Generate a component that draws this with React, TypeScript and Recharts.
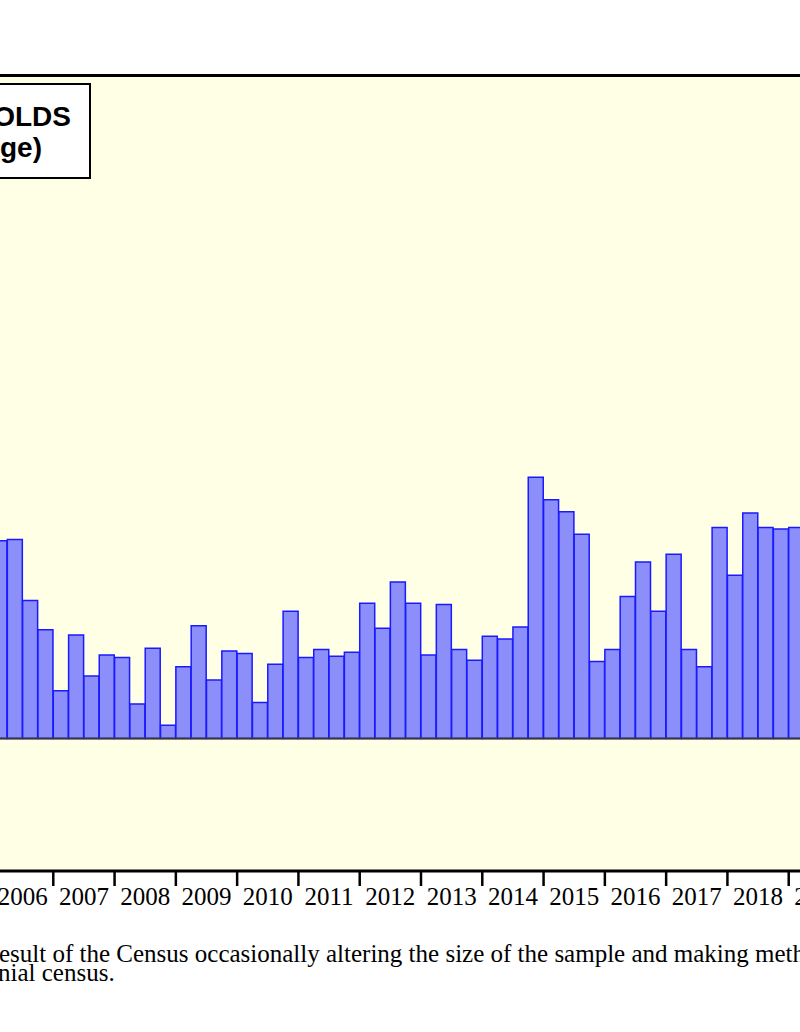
import React from "react";
import { BarChart, Bar, XAxis, YAxis, CartesianGrid, ReferenceLine } from "recharts";

// Quarterly categories (2006 Q1 – 2019 Q4)
const YEARS = [2006, 2007, 2008, 2009, 2010, 2011, 2012, 2013, 2014, 2015, 2016, 2017, 2018, 2019];
const QUARTERS = ["Q1", "Q2", "Q3", "Q4"];

// Year-over-year change (%); last three quarters are outside the view
const VALUES: (number | null)[] = [
  1.49, 1.50, 1.04, 0.82, // 2006
  0.36, 0.78, 0.47, 0.63, // 2007
  0.61, 0.26, 0.68, 0.10, // 2008
  0.54, 0.85, 0.44, 0.66, // 2009
  0.64, 0.27, 0.56, 0.96, // 2010
  0.61, 0.67, 0.62, 0.65, // 2011
  1.02, 0.83, 1.18, 1.02, // 2012
  0.63, 1.01, 0.67, 0.59, // 2013
  0.77, 0.75, 0.84, 1.97, // 2014
  1.80, 1.71, 1.54, 0.58, // 2015
  0.67, 1.07, 1.33, 0.96, // 2016
  1.39, 0.67, 0.54, 1.59, // 2017
  1.23, 1.70, 1.59, 1.58, // 2018
  1.59, null, null, null, // 2019
];

const Y_DOMAIN: [number, number] = [-1, 5];
const TITLE_LINES = ["HOUSEHOLDS", "(% change)"];
const NOTE_LINES = [
  "esult of the Census occasionally altering the size of the sample and making methodological",
  "nial census.",
];

const data = YEARS.flatMap((y) => QUARTERS.map((q) => ({ q: `${y}${q}`, year: y }))).map(
  (d, i) => ({ ...d, v: VALUES[i] })
);

const CHART_W = 1000;
const CHART_H = 1032;
const CHART_LEFT = -100;
const M = { top: 75.5, right: 50, bottom: 121, left: 92 };
const XAXIS_H = 40;
const PLOT_W = CHART_W - M.left - M.right;
const PLOT_BOTTOM = CHART_H - M.bottom - XAXIS_H;
const BW = PLOT_W / data.length;
const SERIF = "'Liberation Serif', 'Times New Roman', serif";
const SANS = "'Liberation Sans', Arial, sans-serif";

const YearTick = (props: any) => {
  const { x, payload } = props;
  const val: string = String(payload?.value ?? "");
  if (!val.endsWith("Q1")) return <g />;
  const edge = x - BW / 2;
  return (
    <g>
      <line x1={edge} x2={edge} y1={PLOT_BOTTOM} y2={PLOT_BOTTOM + 15} stroke="#000" strokeWidth={2.5} />
      <text
        x={edge + BW * 2}
        y={PLOT_BOTTOM + 34}
        textAnchor="middle"
        fontFamily={SERIF}
        fontSize={25}
        fill="#000"
      >
        {val.slice(0, 4)}
      </text>
    </g>
  );
};

export default function App() {
  return (
    <div
      style={{
        position: "absolute",
        left: 0,
        top: 0,
        width: 800,
        height: 1032,
        overflow: "hidden",
        background: "#fff",
      }}
    >
      <div style={{ position: "absolute", left: CHART_LEFT, top: 0 }}>
        <BarChart
          width={CHART_W}
          height={CHART_H}
          data={data}
          margin={M}
          barCategoryGap={0}
          barGap={0}
        >
          <CartesianGrid fill="#ffffe6" fillOpacity={1} horizontal={false} vertical={false} />
          <XAxis
            dataKey="q"
            interval={0}
            height={XAXIS_H}
            axisLine={false}
            tickLine={false}
            tick={(p: any) => <YearTick {...p} />}
          />
          <YAxis hide type="number" domain={Y_DOMAIN} allowDataOverflow />
          <Bar
            dataKey="v"
            fill="#8c8ffa"
            stroke="#1a1aff"
            strokeWidth={1.5}
            isAnimationActive={false}
          />
          <ReferenceLine y={0} stroke="#3a3a3a" strokeWidth={2} />
          <ReferenceLine y={Y_DOMAIN[1]} stroke="#000" strokeWidth={3} />
          <ReferenceLine y={Y_DOMAIN[0]} stroke="#000" strokeWidth={3} />
        </BarChart>
      </div>
      <svg
        width={800}
        height={1032}
        style={{ position: "absolute", left: 0, top: 0, pointerEvents: "none" }}
      >
        <rect x={-150} y={84} width={240} height={94} fill="#fff" stroke="#000" strokeWidth={2} />
        <text x={71} y={126} textAnchor="end" fontFamily={SANS} fontWeight="bold" fontSize={28}>
          {TITLE_LINES[0]}
        </text>
        <text x={42} y={157} textAnchor="end" fontFamily={SANS} fontWeight="bold" fontSize={28}>
          {TITLE_LINES[1]}
        </text>
        <text x={-1} y={962} fontFamily={SERIF} fontSize={25}>
          {NOTE_LINES[0]}
        </text>
        <text x={-2} y={981} fontFamily={SERIF} fontSize={25}>
          {NOTE_LINES[1]}
        </text>
      </svg>
    </div>
  );
}
